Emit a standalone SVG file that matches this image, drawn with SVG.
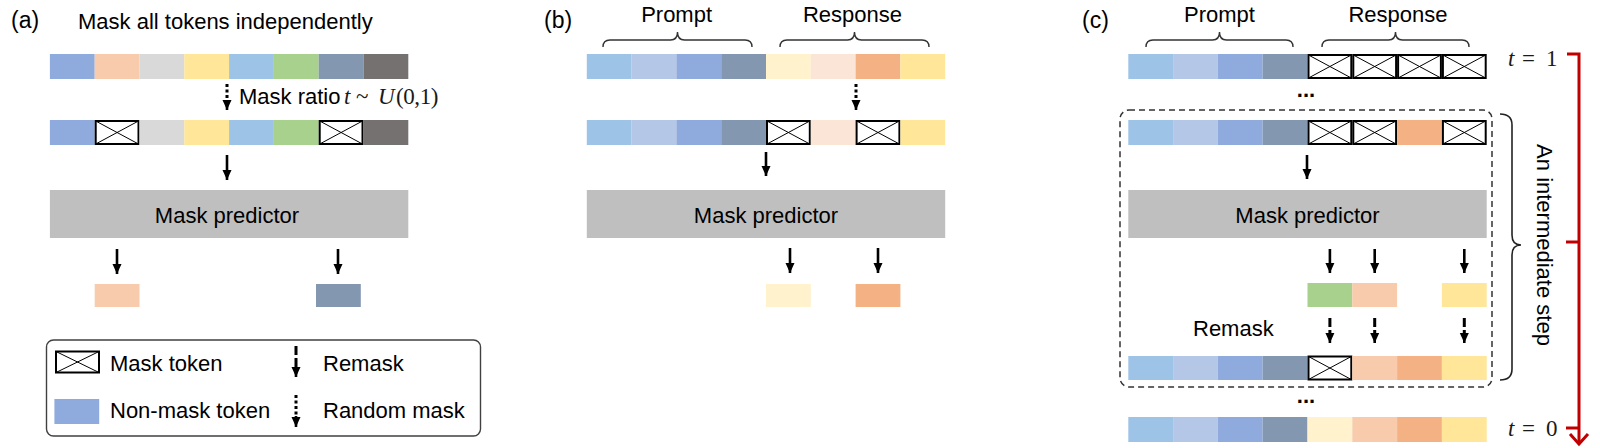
<svg xmlns="http://www.w3.org/2000/svg" xmlns:xlink="http://www.w3.org/1999/xlink" width="1600" height="448" viewBox="0 0 1600 448">
<style>
.t{font-family:"Liberation Sans",Arial,sans-serif;font-size:22px;fill:#000}
.lb{font-family:"Liberation Sans",Arial,sans-serif;font-size:23px;fill:#000}
.m{font-family:"Liberation Serif","Times New Roman",serif;font-size:23px;fill:#1a1a1a}
.mi{font-style:italic}
.pred{fill:#BFBFBF}
.ar{stroke:#000;stroke-width:2.6;fill:none}
.dot{stroke:#000;stroke-width:3;fill:none;stroke-dasharray:3 2.5}
.dash{stroke:#000;stroke-width:3;fill:none;stroke-dasharray:9 3}
.br{stroke:#333;stroke-width:1.4;fill:none}
.red{stroke:#C00000;stroke-width:3;fill:none}
</style>
<defs>
<marker id="ah" viewBox="0 0 10 10" refX="10" refY="5" markerWidth="10" markerHeight="10" markerUnits="userSpaceOnUse" orient="auto">
<path d="M0,0.5 L10,5 L0,9.5 z" fill="#000"/>
</marker>
<g id="mk"><rect x="1" y="1" width="42.8" height="23" fill="#fff" stroke="#000" stroke-width="2"/><path d="M1,1 L43.8,24 M43.8,1 L1,24" stroke="#000" stroke-width="1"/></g>
</defs>
<rect width="1600" height="448" fill="#fff"/>

<!-- Panel (a) -->
<g id="panel-a-labels">
<text class="lb" x="11" y="28">(a)</text>
<text class="t" x="78" y="29">Mask all tokens independently</text>
</g>
<g id="a-row1">
<rect x="49.9" y="54" width="44.8" height="25" fill="#8FAADC"/>
<rect x="94.7" y="54" width="44.8" height="25" fill="#F8CBAD"/>
<rect x="139.5" y="54" width="44.8" height="25" fill="#D9D9D9"/>
<rect x="184.3" y="54" width="44.8" height="25" fill="#FFE699"/>
<rect x="229.1" y="54" width="44.8" height="25" fill="#9DC3E6"/>
<rect x="273.9" y="54" width="44.8" height="25" fill="#A9D18E"/>
<rect x="318.7" y="54" width="44.8" height="25" fill="#8497B0"/>
<rect x="363.5" y="54" width="44.8" height="25" fill="#767171"/>
</g>
<g id="a-mask-ratio">
<text class="t" x="239" y="104" font-size="20.5">Mask ratio</text>
<text class="m" y="104" font-size="22"><tspan class="mi" x="344">t</tspan><tspan x="356">~</tspan><tspan class="mi" x="378">U</tspan><tspan x="396" letter-spacing="-0.4">(0,1)</tspan></text>
</g>
<g id="a-row2">
<rect x="49.9" y="120" width="44.8" height="25" fill="#8FAADC"/>
<use xlink:href="#mk" x="94.7" y="120"/>
<rect x="139.5" y="120" width="44.8" height="25" fill="#D9D9D9"/>
<rect x="184.3" y="120" width="44.8" height="25" fill="#FFE699"/>
<rect x="229.1" y="120" width="44.8" height="25" fill="#9DC3E6"/>
<rect x="273.9" y="120" width="44.8" height="25" fill="#A9D18E"/>
<use xlink:href="#mk" x="318.7" y="120"/>
<rect x="363.5" y="120" width="44.8" height="25" fill="#767171"/>
</g>
<g id="a-predictor">
<rect class="pred" x="49.9" y="190" width="358.4" height="48"/>
<text class="t" x="227" y="223" text-anchor="middle">Mask predictor</text>
</g>
<g id="a-outputs">
<rect x="94.7" y="284" width="44.8" height="23" fill="#F8CBAD"/>
<rect x="316" y="284" width="44.8" height="23" fill="#8497B0"/>
</g>
<g id="legend">
<rect x="46.5" y="340" width="434" height="96" rx="7" fill="#fff" stroke="#404040" stroke-width="1.4"/>
<rect x="56" y="351.5" width="43" height="21" fill="#fff" stroke="#000" stroke-width="2"/>
<path d="M56,351.5 L99,372.5 M99,351.5 L56,372.5" stroke="#000" stroke-width="1"/>
<text class="t" x="110" y="371">Mask token</text>
<rect x="54.4" y="399" width="44.8" height="25" fill="#8FAADC"/>
<text class="t" x="110" y="418">Non-mask token</text>
<text class="t" x="323" y="371">Remask</text>
<text class="t" x="323" y="418">Random mask</text>
</g>

<!-- Panel (b) -->
<g id="panel-b-labels">
<text class="lb" x="544" y="28">(b)</text>
<text class="t" x="676.6" y="22" text-anchor="middle">Prompt</text>
<text class="t" x="852.5" y="22" text-anchor="middle">Response</text>
<path class="br" d="M603,47 Q603,40 610,40 L670.5,40 Q677.5,40 677.5,32 Q677.5,40 684.5,40 L745,40 Q752,40 752,47"/>
<path class="br" d="M780,47 Q780,40 787,40 L847.5,40 Q854.5,40 854.5,32 Q854.5,40 861.5,40 L922,40 Q929,40 929,47"/>
</g>
<g id="b-row1">
<rect x="586.8" y="54" width="44.8" height="25" fill="#9DC3E6"/>
<rect x="631.6" y="54" width="44.8" height="25" fill="#B4C7E7"/>
<rect x="676.4" y="54" width="44.8" height="25" fill="#8FAADC"/>
<rect x="721.2" y="54" width="44.8" height="25" fill="#8497B0"/>
<rect x="766" y="54" width="44.8" height="25" fill="#FFF2CC"/>
<rect x="810.8" y="54" width="44.8" height="25" fill="#FBE5D6"/>
<rect x="855.6" y="54" width="44.8" height="25" fill="#F4B183"/>
<rect x="900.4" y="54" width="44.8" height="25" fill="#FFE699"/>
</g>
<g id="b-row2">
<rect x="586.8" y="120" width="44.8" height="25" fill="#9DC3E6"/>
<rect x="631.6" y="120" width="44.8" height="25" fill="#B4C7E7"/>
<rect x="676.4" y="120" width="44.8" height="25" fill="#8FAADC"/>
<rect x="721.2" y="120" width="44.8" height="25" fill="#8497B0"/>
<use xlink:href="#mk" x="766" y="120"/>
<rect x="810.8" y="120" width="44.8" height="25" fill="#FBE5D6"/>
<use xlink:href="#mk" x="855.6" y="120"/>
<rect x="900.4" y="120" width="44.8" height="25" fill="#FFE699"/>
</g>
<g id="b-predictor">
<rect class="pred" x="586.8" y="190" width="358.4" height="48"/>
<text class="t" x="766" y="223" text-anchor="middle">Mask predictor</text>
</g>
<g id="b-outputs">
<rect x="766" y="284" width="44.8" height="23" fill="#FFF2CC"/>
<rect x="855.6" y="284" width="44.8" height="23" fill="#F4B183"/>
</g>

<!-- Panel (c) -->
<g id="panel-c-labels">
<text class="lb" x="1082" y="28">(c)</text>
<text class="t" x="1219.5" y="22" text-anchor="middle">Prompt</text>
<text class="t" x="1398" y="22" text-anchor="middle">Response</text>
<path class="br" d="M1146,47 Q1146,40 1153,40 L1212.5,40 Q1219.5,40 1219.5,32 Q1219.5,40 1226.5,40 L1286,40 Q1293,40 1293,47"/>
<path class="br" d="M1322,47 Q1322,40 1329,40 L1388.5,40 Q1395.5,40 1395.5,32 Q1395.5,40 1402.5,40 L1462,40 Q1469,40 1469,47"/>
</g>
<g id="c-row1">
<rect x="1128.3" y="54" width="44.8" height="25" fill="#9DC3E6"/>
<rect x="1173.1" y="54" width="44.8" height="25" fill="#B4C7E7"/>
<rect x="1217.9" y="54" width="44.8" height="25" fill="#8FAADC"/>
<rect x="1262.7" y="54" width="44.8" height="25" fill="#8497B0"/>
<use xlink:href="#mk" x="1307.5" y="54"/>
<use xlink:href="#mk" x="1352.3" y="54"/>
<use xlink:href="#mk" x="1397.1" y="54"/>
<use xlink:href="#mk" x="1441.9" y="54"/>
</g>
<g id="c-t1">
<text class="m" y="66"><tspan class="mi" x="1508">t</tspan><tspan x="1522">=</tspan><tspan x="1546">1</tspan></text>
</g>
<text class="t" x="1306" y="97" text-anchor="middle" font-weight="bold">...</text>
<g id="c-step">
<rect x="1120" y="110" width="372" height="277" rx="9" fill="none" stroke="#333" stroke-width="1.5" stroke-dasharray="6 4"/>
</g>
<g id="c-row2">
<rect x="1128.3" y="120" width="44.8" height="25" fill="#9DC3E6"/>
<rect x="1173.1" y="120" width="44.8" height="25" fill="#B4C7E7"/>
<rect x="1217.9" y="120" width="44.8" height="25" fill="#8FAADC"/>
<rect x="1262.7" y="120" width="44.8" height="25" fill="#8497B0"/>
<use xlink:href="#mk" x="1307.5" y="120"/>
<use xlink:href="#mk" x="1352.3" y="120"/>
<rect x="1397.1" y="120" width="44.8" height="25" fill="#F4B183"/>
<use xlink:href="#mk" x="1441.9" y="120"/>
</g>
<g id="c-predictor">
<rect class="pred" x="1128.3" y="190" width="358.4" height="48"/>
<text class="t" x="1307.5" y="223" text-anchor="middle">Mask predictor</text>
</g>
<g id="c-outputs">
<rect x="1307.5" y="283" width="44.8" height="24" fill="#A9D18E"/>
<rect x="1352.3" y="283" width="44.8" height="24" fill="#F8CBAD"/>
<rect x="1441.9" y="283" width="44.8" height="24" fill="#FFE699"/>
</g>
<text class="t" x="1193" y="336">Remask</text>
<g id="c-row3">
<rect x="1128.3" y="356" width="44.8" height="24" fill="#9DC3E6"/>
<rect x="1173.1" y="356" width="44.8" height="24" fill="#B4C7E7"/>
<rect x="1217.9" y="356" width="44.8" height="24" fill="#8FAADC"/>
<rect x="1262.7" y="356" width="44.8" height="24" fill="#8497B0"/>
<use xlink:href="#mk" x="1307.5" y="355.5"/>
<rect x="1352.3" y="356" width="44.8" height="24" fill="#F8CBAD"/>
<rect x="1397.1" y="356" width="44.8" height="24" fill="#F4B183"/>
<rect x="1441.9" y="356" width="44.8" height="24" fill="#FFE699"/>
</g>
<text class="t" x="1306" y="403" text-anchor="middle" font-weight="bold">...</text>
<g id="c-row4">
<rect x="1128.3" y="417" width="44.8" height="25" fill="#9DC3E6"/>
<rect x="1173.1" y="417" width="44.8" height="25" fill="#B4C7E7"/>
<rect x="1217.9" y="417" width="44.8" height="25" fill="#8FAADC"/>
<rect x="1262.7" y="417" width="44.8" height="25" fill="#8497B0"/>
<rect x="1307.5" y="417" width="44.8" height="25" fill="#FFF2CC"/>
<rect x="1352.3" y="417" width="44.8" height="25" fill="#F8CBAD"/>
<rect x="1397.1" y="417" width="44.8" height="25" fill="#F4B183"/>
<rect x="1441.9" y="417" width="44.8" height="25" fill="#FFE699"/>
</g>
<g id="c-t0">
<text class="m" y="436"><tspan class="mi" x="1508">t</tspan><tspan x="1522">=</tspan><tspan x="1546">0</tspan></text>
</g>
<g id="c-step-brace">
<path d="M1500,114 Q1512,114 1512,125 L1512,235 Q1512,245 1521,245 Q1512,245 1512,255 L1512,369 Q1512,380 1500,380" stroke="#222" stroke-width="1.6" fill="none"/>
<text class="t" transform="translate(1537,245) rotate(90)" text-anchor="middle" font-size="23.5">An intermediate step</text>
</g>
<g id="c-timeline">
<path class="red" d="M1567,54 L1579,54 L1579,444"/>
<path class="red" d="M1566,242 L1579,242"/>
<path class="red" d="M1566,428 L1579,428"/>
<path class="red" d="M1570,434 L1579,444 L1588,434"/>
</g>

<!-- Connectors -->
<g id="connectors">
<path class="dot" d="M227,84 L227,101" />
<path class="ar" d="M227,100 L227,110" marker-end="url(#ah)"/>
<path class="ar" d="M227,155 L227,180" marker-end="url(#ah)"/>
<path class="ar" d="M117,249 L117,274" marker-end="url(#ah)"/>
<path class="ar" d="M338,249 L338,274" marker-end="url(#ah)"/>
<path class="dash" d="M296,346 L296,368"/>
<path class="ar" d="M296,367 L296,377" marker-end="url(#ah)"/>
<path class="dot" d="M296,395 L296,416"/>
<path class="ar" d="M296,416 L296,427" marker-end="url(#ah)"/>

<path class="dot" d="M856,84 L856,101"/>
<path class="ar" d="M856,100 L856,110" marker-end="url(#ah)"/>
<path class="ar" d="M766,152 L766,176" marker-end="url(#ah)"/>
<path class="ar" d="M790,248 L790,273" marker-end="url(#ah)"/>
<path class="ar" d="M878,248 L878,273" marker-end="url(#ah)"/>

<path class="ar" d="M1307,155 L1307,179" marker-end="url(#ah)"/>
<path class="ar" d="M1329.9,249 L1329.9,273" marker-end="url(#ah)"/>
<path class="ar" d="M1374.7,249 L1374.7,273" marker-end="url(#ah)"/>
<path class="ar" d="M1464.3,249 L1464.3,273" marker-end="url(#ah)"/>
<path class="dash" d="M1329.9,318 L1329.9,334"/>
<path class="ar" d="M1329.9,333 L1329.9,343" marker-end="url(#ah)"/>
<path class="dash" d="M1374.7,318 L1374.7,334"/>
<path class="ar" d="M1374.7,333 L1374.7,343" marker-end="url(#ah)"/>
<path class="dash" d="M1464.3,318 L1464.3,334"/>
<path class="ar" d="M1464.3,333 L1464.3,343" marker-end="url(#ah)"/>
</g>
</svg>
